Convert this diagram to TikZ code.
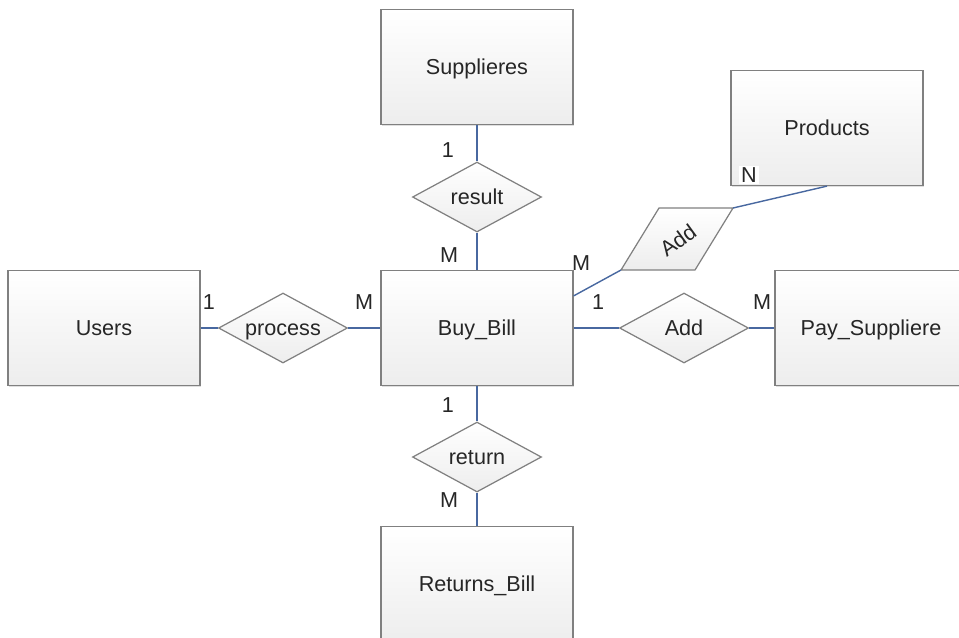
\documentclass[tikz,border=0pt]{standalone}
\usepackage{fontspec}
\setmainfont{Liberation Sans}
\usepackage{tikz}
\usetikzlibrary{shapes,calc,shadows}
\definecolor{linkblue}{RGB}{72,104,160}
\definecolor{boxline}{RGB}{128,128,128}
\tikzset{entity/.style={draw=boxline, line width=0.7pt, top color=white, bottom color=black!7,
		minimum width=3.84cm, minimum height=2.3cm, text=black!85, text height=0.85em, text depth=0pt,
		drop shadow={shadow xshift=0.7pt, shadow yshift=-0.7pt, opacity=0.25}}}
\tikzset{relation/.style={diamond, draw=boxline, line width=0.7pt, top color=white, bottom color=black!7,
		aspect=1.84, inner sep=0pt, minimum width=2.58cm, minimum height=1.4cm, text=black!85,
		text height=0.85em, text depth=0pt}}
\tikzset{card/.style={text=black!85, inner sep=1pt}}
\tikzset{link/.style={draw=linkblue, line width=0.8pt}}

\begin{document}
\begin{tikzpicture}[x=0.02cm, y=-0.02cm, font=\fontsize{12.3}{14}\selectfont]
			\useasboundingbox (0,0) rectangle (959,637);

			% entities
			\node[entity] (supplieres) at (477,67) {Supplieres};
			\node[entity] (products) at (827,128) {Products};
			\node[entity] (users) at (104,328) {Users};
			\node[entity] (buybill) at (477,328) {Buy\_Bill};
			\node[entity] (paysup) at (871,328) {Pay\_Suppliere};
			\node[entity] (returns) at (477,584) {Returns\_Bill};

			% relations
			\node[relation] (result) at (477,197) {result};
			\node[relation] (return) at (477,457) {return};
			\node[relation] (process) at (283,328) {process};
			\node[relation] (addpay) at (684,328) {Add};

			\draw[draw=boxline, line width=0.7pt, top color=white, bottom color=black!7]
				(621,270) coordinate (ap-sw) -- (695,270) -- (733,208) coordinate (ap-ne) -- (659,208) -- cycle;
			\node[text=black!85, rotate=36] (addprod) at (678,240) {Add};

			% links
			\coordinate (bb-ne) at ($(buybill.north east)+(0,26)$);
			\draw[link] (supplieres) -- (result);
			\draw[link] (result) -- (buybill);
			\draw[link] (buybill) -- (return);
			\draw[link] (return) -- (returns);
			\draw[link] (users) -- (process);
			\draw[link] (process) -- (buybill);
			\draw[link] (buybill) -- (addpay);
			\draw[link] (addpay) -- (paysup);
			\draw[link] (bb-ne) -- (ap-sw);
			\draw[link] (ap-ne) -- (products.south);

			% cardinalities
			\node[card] (c-sup) at (448,150) {1};
			\node[card] (c-res) at (449,255) {M};
			\node[card] (c-bbp) at (581,263) {M};
			\node[card] (c-bba) at (598,302) {1};
			\node[card] (c-pay) at (762,302) {M};
			\node[card, fill=white] (c-prd) at (749,175) {N};
			\node[card] (c-usr) at (209,302) {1};
			\node[card] (c-pro) at (364,302) {M};
			\node[card] (c-bbr) at (448,405) {1};
			\node[card] (c-ret) at (449,500) {M};
\end{tikzpicture}
\end{document}
